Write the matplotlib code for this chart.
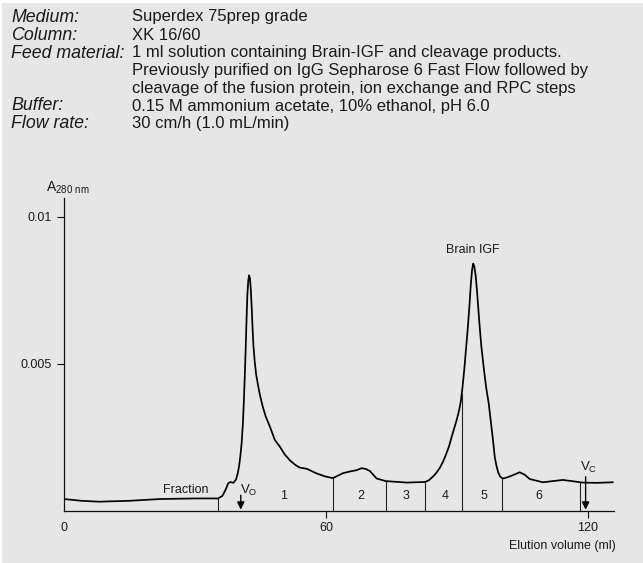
import numpy as np
import matplotlib
matplotlib.use("Agg")
import matplotlib.pyplot as plt
from matplotlib.patches import Rectangle

plt.rcParams['font.family'] = ['Liberation Sans', 'DejaVu Sans']
plt.rcParams['mathtext.default'] = 'regular'

# Run conditions printed above the chromatogram
header_keys = ["Medium:", "Column:", "Feed material:", "", "", "Buffer:", "Flow rate:"]
header_vals = [
    "Superdex 75prep grade",
    "XK 16/60",
    "1 ml solution containing Brain-IGF and cleavage products.",
    "Previously purified on IgG Sepharose 6 Fast Flow followed by",
    "cleavage of the fusion protein, ion exchange and RPC steps",
    "0.15 M ammonium acetate, 10% ethanol, pH 6.0",
    "30 cm/h (1.0 mL/min)",
]

# UV trace: elution volume (ml) and absorbance at 280 nm
volume = [0, 4, 8, 15, 22, 30, 35.3, 36.3, 37.0, 37.6, 38.1, 38.8, 39.4, 39.8,
          40.1, 40.4, 40.7, 41.0, 41.2, 41.4, 41.6, 41.8, 42.0, 42.2, 42.4, 42.6,
          42.8, 43.0, 43.2, 43.4, 43.7, 44.0, 44.4, 44.9, 45.5, 46.2, 47.2, 48.3,
          49.5, 50.6, 51.8, 53.0, 54.0, 55.6, 57.9, 59.8, 61.6, 63.9, 65.9, 67.0,
          68.2, 69.2, 70.1, 71.6, 73.7, 78.5, 82.7, 83.6, 84.5, 85.3, 86.1, 86.8,
          87.5, 88.2, 88.8, 89.4, 90.0, 90.5, 90.9, 91.3, 91.7, 92.1, 92.5, 92.9,
          93.2, 93.5, 93.75, 94.0, 94.3, 94.6, 94.9, 95.2, 95.6, 96.2, 96.7, 97.3,
          97.8, 98.2, 98.7, 99.1, 99.5, 100.0, 100.5, 101.0, 102.5, 104.4, 105.5,
          106.7, 109.7, 114.3, 118.8, 122.0, 125.7]
absorbance = [0.00039, 0.00033, 0.00030, 0.00033, 0.00039, 0.00041, 0.00041, 0.00050,
              0.00070, 0.00092, 0.00097, 0.00094, 0.00105, 0.00126, 0.00150, 0.00185,
              0.00230, 0.00300, 0.00370, 0.00450, 0.00540, 0.00640, 0.00730, 0.00780,
              0.00800, 0.00790, 0.00750, 0.00690, 0.00620, 0.00560, 0.00505, 0.00465,
              0.00430, 0.00392, 0.00355, 0.00320, 0.00284, 0.00240, 0.00216, 0.00190,
              0.00170, 0.00155, 0.00146, 0.00142, 0.00126, 0.00116, 0.00110, 0.00127,
              0.00134, 0.00137, 0.00144, 0.00141, 0.00134, 0.00109, 0.00100, 0.00095,
              0.00097, 0.00103, 0.00115, 0.00128, 0.00145, 0.00165, 0.00190, 0.00218,
              0.00250, 0.00280, 0.00310, 0.00340, 0.00370, 0.00420, 0.00480, 0.00550,
              0.00620, 0.00700, 0.00770, 0.00820, 0.00840, 0.00830, 0.00800, 0.00750,
              0.00690, 0.00630, 0.00560, 0.00480, 0.00420, 0.00364, 0.00300, 0.00250,
              0.00180, 0.00150, 0.00128, 0.00114, 0.00109, 0.00110, 0.00118, 0.00130,
              0.00122, 0.00107, 0.00096, 0.00104, 0.00095, 0.00094, 0.00096]

# Fraction cuts and fraction labels
fraction_cuts = [35.3, 61.6, 73.7, 82.7, 91.1, 100.3, 118.3]
fraction_names = ["1", "2", "3", "4", "5", "6"]
fraction_label_x = [50.2, 68.0, 78.3, 87.3, 96.2, 108.8]

v0 = 40.5
vc = 119.5
brain_igf_x = 93.7

W, H = 643, 563
fig = plt.figure(figsize=(W / 100, H / 100), dpi=100, facecolor='white')
fig.patches.append(Rectangle((2 / W, 0), 1, (H - 3) / H, transform=fig.transFigure,
                             facecolor='#e6e6e6', edgecolor='none', zorder=-5))

def fx(px):
    return px / W

def fy(py):
    return 1 - py / H

txt = '#1a1a1a'
row_y = [17, 35, 53, 70.5, 88, 106, 123.5]
for key, val, y in zip(header_keys, header_vals, row_y):
    if key:
        fig.text(fx(11), fy(y), key, fontsize=12.8, style='italic', color=txt, va='center')
    fig.text(fx(132), fy(y), val, fontsize=12, color=txt, va='center')

ax = fig.add_axes([fx(64), fy(510.5), fx(614) - fx(64), fy(198) - fy(510.5)])
ax.set_facecolor('none')
ax.set_xlim(0, 126)
ax.set_ylim(0, (510.5 - 198) / 29400)

ax.plot(volume, absorbance, color='black', lw=1.25, solid_joinstyle='round')

for cut in fraction_cuts:
    top = np.interp(cut, volume, absorbance)
    ax.plot([cut, cut], [0, top], color='#222222', lw=0.8)

for name, x in zip(fraction_names, fraction_label_x):
    ax.text(x, 0.00051, name, fontsize=9, color=txt, ha='center', va='center')

ax.text(28, 0.00070, "Fraction", fontsize=9, color=txt, ha='center', va='center')
ax.text(brain_igf_x, 0.00885, "Brain IGF", fontsize=9, color=txt, ha='center', va='center')

arrow = dict(arrowstyle='-|>', color='black', lw=1.0, mutation_scale=11, shrinkA=0, shrinkB=0)
ax.annotate('', xy=(v0, 0.00003), xytext=(v0, 0.00052), arrowprops=arrow)
ax.text(v0 + 1.8, 0.00068, r'V$_{O}$', fontsize=9.5, color=txt, ha='center', va='center')
ax.annotate('', xy=(vc, 0.00003), xytext=(vc, 0.00115), arrowprops=arrow)
ax.text(vc + 0.6, 0.00146, r'V$_{C}$', fontsize=9.5, color=txt, ha='center', va='center')

for side in ['top', 'right']:
    ax.spines[side].set_visible(False)
for side in ['left', 'bottom']:
    ax.spines[side].set_linewidth(0.9)
    ax.spines[side].set_color('#111111')

ax.set_xticks([0, 60, 120])
ax.set_xticklabels(["0", "60", "120"])
ax.xaxis.get_major_ticks()[0].tick1line.set_visible(False)
ax.set_yticks([0.005, 0.01])
ax.set_yticklabels(["0.005", "0.01"])
ax.tick_params(axis='both', direction='out', length=5, width=0.8, color='#111111',
               labelsize=9, labelcolor=txt)
ax.tick_params(axis='x', pad=3)
ax.tick_params(axis='y', pad=4)

fig.text(fx(616), fy(546), "Elution volume (ml)", fontsize=9, color=txt, ha='right', va='center')
fig.text(fx(46), fy(188), r'A$_{280\ nm}$', fontsize=10, color=txt, ha='left', va='center')

fig.savefig("out.png", dpi=100)
